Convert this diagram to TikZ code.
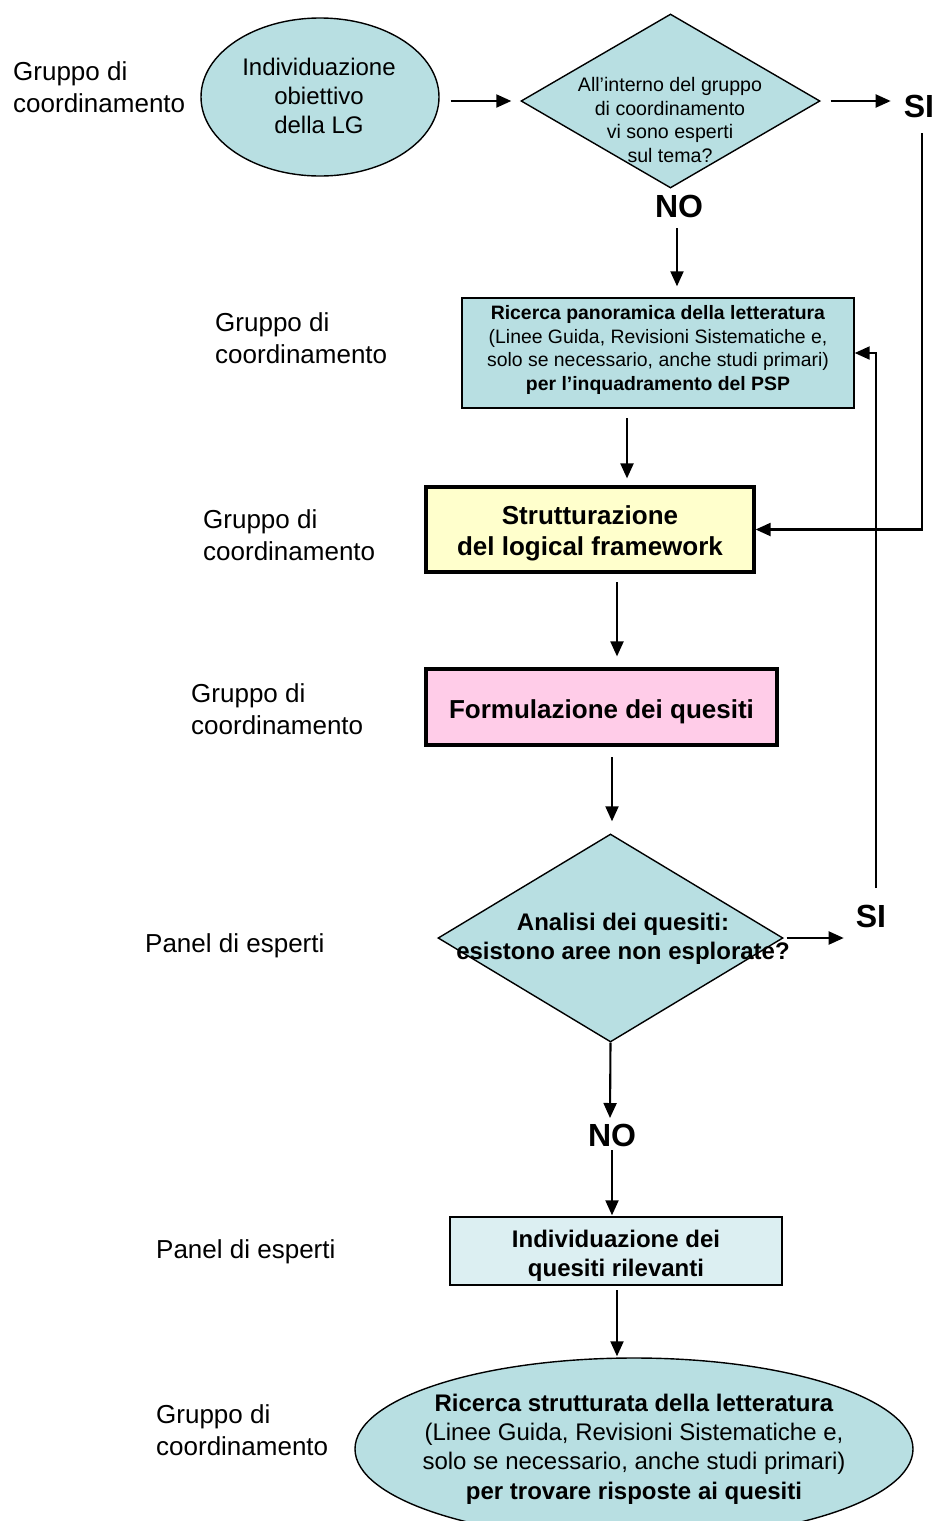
\documentclass[tikz,border=0pt]{standalone}
\usepackage{fontspec}
\setmainfont{Liberation Sans}
\usetikzlibrary{shapes.geometric,arrows.meta}

\definecolor{aqua}{HTML}{B8DFE2}
\definecolor{paleaqua}{HTML}{DCEFF2}
\definecolor{paleyellow}{HTML}{FFFFCC}
\definecolor{palepink}{HTML}{FFCCE8}

\tikzset{
  lbl/.style={anchor=west, align=left, inner sep=0pt, font=\fontsize{26}{31.5}\selectfont},
  thinbox/.style={draw=black, line width=1.4pt, inner sep=0pt},
  thickbox/.style={draw=black, line width=3.2pt, inner sep=0pt},
  txt/.style={align=center, inner sep=0pt},
  yesno/.style={inner sep=0pt, font=\fontsize{32}{36}\selectfont\bfseries},
  arr/.style={line width=2.1pt, -{Triangle[length=15pt,width=13pt]}}
}

\begin{document}
\begin{tikzpicture}[x=1pt,y=-1pt]
\useasboundingbox (0,0) rectangle (939,1521);
\clip (0,0) rectangle (939,1521);

% actor labels on the left
\node[lbl] (g1) at (13,87)   {Gruppo di\\coordinamento};
\node[lbl] (g2) at (215,338) {Gruppo di\\coordinamento};
\node[lbl] (g3) at (203,535) {Gruppo di\\coordinamento};
\node[lbl] (g4) at (191,709) {Gruppo di\\coordinamento};
\node[lbl] (p1) at (145,946) {Panel di esperti};
\node[lbl] (p2) at (156,1252) {Panel di esperti};
\node[lbl] (g5) at (156,1430) {Gruppo di\\coordinamento};

% objective
\node[thinbox, ellipse, fill=aqua, minimum width=238pt, minimum height=158pt] (ell1) at (320,97) {};
\node[txt, font=\fontsize{24}{29}\selectfont] (ell1t) at (319,96) {Individuazione\\obiettivo\\della LG};

% first decision
\node[thinbox, diamond, fill=aqua, minimum width=299pt, minimum height=174pt] (dia1) at (670.5,101) {};
\node[txt, font=\fontsize{19.6}{23.7}\selectfont] (dia1t) at (670,120) {All’interno del gruppo\\di coordinamento\\vi sono esperti\\sul tema?};
\node[yesno] (si1) at (919,106) {SI};
\node[yesno] (no1) at (679,206) {NO};

% overview search
\node[thinbox, fill=aqua, minimum width=392pt, minimum height=110pt] (rp) at (658,353) {};
\node[txt, font=\fontsize{19.4}{23.7}\selectfont] (rpt) at (658,350)
  {\textbf{Ricerca panoramica della letteratura}\\(Linee Guida, Revisioni Sistematiche e,\\solo se necessario, anche studi primari)\\\textbf{per l’inquadramento del PSP}};

% logical framework
\node[thickbox, fill=paleyellow, minimum width=328pt, minimum height=85pt] (sb) at (590,529.5) {};
\node[txt, font=\fontsize{26}{31}\selectfont\bfseries] (sbt) at (590,533.5) {Strutturazione\\del logical framework};

% questions
\node[thickbox, fill=palepink, minimum width=351pt, minimum height=76pt] (fq) at (601.5,707) {};
\node[txt, font=\fontsize{26}{31}\selectfont\bfseries] (fqt) at (601.5,712) {Formulazione dei quesiti};

% second decision
\node[thinbox, diamond, fill=aqua, minimum width=345pt, minimum height=208pt] (dia2) at (610.5,938) {};
\node[txt, font=\fontsize{24}{29}\selectfont\bfseries] (dia2t) at (623,939) {Analisi dei quesiti:\\esistono aree non esplorate?};
\node[yesno] (si2) at (871,916) {SI};
\node[yesno] (no2) at (612,1135) {NO};

% relevant questions
\node[thinbox, fill=paleaqua, minimum width=332pt, minimum height=68pt] (iq) at (616,1251) {};
\node[txt, font=\fontsize{24}{29}\selectfont\bfseries] (iqt) at (616,1256) {Individuazione dei\\quesiti rilevanti};

% structured search
\node[thinbox, ellipse, fill=aqua, minimum width=558pt, minimum height=182pt] (ell2) at (634,1449) {};
\node[txt, font=\fontsize{24}{29.3}\selectfont] (ell2t) at (634,1449)
  {\textbf{Ricerca strutturata della letteratura}\\(Linee Guida, Revisioni Sistematiche e,\\solo se necessario, anche studi primari)\\\textbf{per trovare risposte ai quesiti}};

% connectors
\draw[arr, shorten <=11pt, shorten >=9pt] (ell1.east |- dia1.west) -- (dia1.west);
\draw[arr, shorten <=10pt, shorten >=13pt] (dia1.east) -- (si1.west |- dia1.east);

\coordinate (n1) at (677,228);
\draw[arr, shorten >=11pt] (n1) -- (n1 |- rp.north);

\coordinate (c1) at (627,418);
\draw[arr, shorten >=7pt] (c1) -- (c1 |- sb.north);

\coordinate (c2) at (617,582);
\draw[arr, shorten >=11pt] (c2) -- (c2 |- fq.north);

\coordinate (c3) at (612,757);
\draw[arr, shorten >=12pt] (c3) -- (c3 |- dia2.north);

\draw[arr, shorten <=3pt, shorten >=12pt] (dia2.east) -- (si2.west |- dia2.east);

% yes-loop from the first decision back to the logical framework
\coordinate (y1) at (922,133);
\draw[arr] (y1) |- (sb.east);

% yes-loop from the second decision back to the overview search
\coordinate (y2) at (876,888);
\draw[arr] (y2) |- (rp.east);

\coordinate (c4) at (610,1118);
\draw[arr] (dia2.south) -- (c4);

\coordinate (n2) at (612,1150);
\draw[arr, shorten >=1pt] (n2) -- (n2 |- iq.north);

\coordinate (c5) at (617,1290);
\draw[arr, shorten >=1pt] (c5) -- (c5 |- ell2.north);
\end{tikzpicture}
\end{document}
